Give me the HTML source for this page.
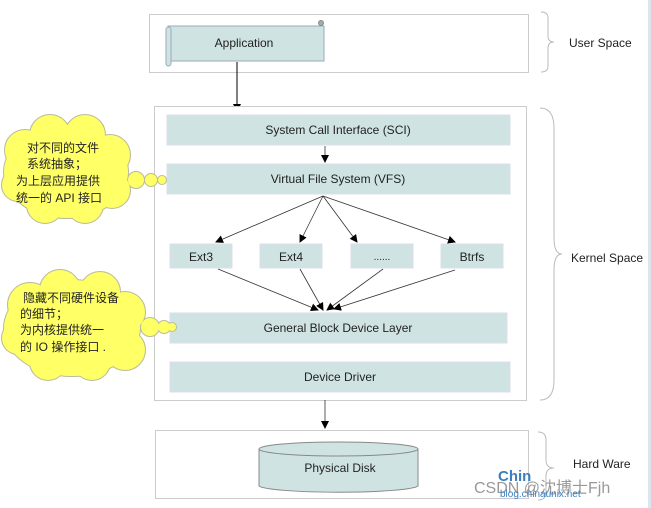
<!DOCTYPE html>
<html><head><meta charset="utf-8"><style>
html,body{margin:0;padding:0;background:#fff;width:651px;height:508px;overflow:hidden}
text{font-family:"Liberation Sans","Noto Sans CJK SC",sans-serif;fill:#222}
</style></head><body>
<svg width="651" height="508" viewBox="0 0 651 508" xmlns="http://www.w3.org/2000/svg">
<defs>
<marker id="a" markerWidth="8" markerHeight="8" refX="7" refY="4" orient="auto" markerUnits="userSpaceOnUse">
<path d="M0,0 L8,4 L0,8 Z" fill="#000"/></marker>
<g id="c1">
<ellipse cx="66" cy="172" rx="62" ry="46"/>
<circle cx="25" cy="150" r="20"/><circle cx="50" cy="135" r="20"/><circle cx="85" cy="135" r="20"/>
<circle cx="110" cy="155" r="20"/><circle cx="112" cy="190" r="18"/><circle cx="85" cy="205" r="18"/>
<circle cx="45" cy="205" r="18"/><circle cx="18" cy="185" r="16"/>
<circle cx="136" cy="180" r="8"/><circle cx="151" cy="180" r="6"/><circle cx="162" cy="180" r="4"/>
</g>
<g id="c2">
<ellipse cx="72" cy="328" rx="68" ry="48"/>
<circle cx="30" cy="305" r="22"/><circle cx="60" cy="290" r="20"/><circle cx="100" cy="292" r="20"/>
<circle cx="125" cy="312" r="20"/><circle cx="125" cy="350" r="20"/><circle cx="92" cy="362" r="18"/>
<circle cx="48" cy="362" r="18"/><circle cx="18" cy="338" r="16"/>
<circle cx="150" cy="327" r="9"/><circle cx="164" cy="327" r="6"/><circle cx="172" cy="327" r="4"/>
</g>
</defs>
<rect x="648" y="0" width="3" height="508" fill="#dde6ee"/>
<rect x="149.5" y="14.5" width="379" height="58" fill="#fff" stroke="#ccc"/>
<rect x="168" y="26" width="156" height="35" fill="#cfe3e3" stroke="#9ab"/>
<rect x="166" y="27" width="5" height="39" rx="2.5" fill="#cfe3e3" stroke="#9ab"/>
<circle cx="321" cy="23" r="2.5" fill="#aaa" stroke="#888"/>
<text x="244" y="47" font-size="12" text-anchor="middle">Application</text>
<path d="M541,12 q7,0 7,6 v18 q0,6 6,6 q-6,0 -6,6 v18 q0,6 -7,6" fill="none" stroke="#bbb"/>
<text x="569" y="47" font-size="12">User Space</text>
<line x1="237" y1="62" x2="237" y2="111" stroke="#000" marker-end="url(#a)"/>
<rect x="154.5" y="106.5" width="372" height="294" fill="#fff" stroke="#ccc"/>
<path d="M540,108 q14,0 14,20 v110 q0,16 8,16 q-8,0 -8,16 v110 q0,20 -14,20" fill="none" stroke="#bbb"/>
<text x="571" y="262" font-size="12">Kernel Space</text>
<g fill="#cfe3e3" stroke="#dde"><rect x="167" y="115" width="343" height="30"/>
<rect x="167" y="164" width="343" height="30"/>
<rect x="170" y="244" width="62" height="24"/><rect x="260" y="244" width="62" height="24"/>
<rect x="351" y="244" width="62" height="24"/><rect x="441" y="244" width="62" height="24"/>
<rect x="170" y="313" width="337" height="30"/><rect x="170" y="362" width="340" height="30"/></g>
<g font-size="12" text-anchor="middle">
<text x="338" y="134">System Call Interface (SCI)</text>
<text x="338" y="183">Virtual File System (VFS)</text>
<text x="201" y="261">Ext3</text><text x="291" y="261">Ext4</text>
<text x="382" y="260" font-size="10">......</text><text x="472" y="261">Btrfs</text>
<text x="338" y="332">General Block Device Layer</text>
<text x="340" y="381">Device Driver</text></g>
<g stroke="#333" stroke-width="0.8" marker-end="url(#a)">
<line x1="325" y1="146" x2="325" y2="162"/>
<line x1="323" y1="196" x2="216" y2="242"/><line x1="323" y1="196" x2="300" y2="242"/>
<line x1="323" y1="196" x2="357" y2="242"/><line x1="323" y1="196" x2="455" y2="242"/>
<line x1="218" y1="269" x2="318" y2="310"/><line x1="300" y1="269" x2="323" y2="310"/>
<line x1="383" y1="269" x2="327" y2="310"/><line x1="455" y1="270" x2="334" y2="309"/>
<line x1="325" y1="400" x2="325" y2="428"/></g>
<rect x="155.5" y="430.5" width="373" height="68" fill="#fff" stroke="#ccc"/>
<path d="M259,449 v37 a80,7 0 0 0 159,0 v-37" fill="#cfe3e3" stroke="#888"/>
<ellipse cx="338.5" cy="449" rx="79.5" ry="7" fill="#cfe3e3" stroke="#888"/>
<text x="340" y="472" font-size="12" text-anchor="middle">Physical Disk</text>
<path d="M538,432 q8,0 8,8 v20 q0,8 8,8 q-8,0 -8,8 v16 q0,8 -8,8" fill="none" stroke="#bbb"/>
<text x="573" y="468" font-size="12">Hard Ware</text>
<text x="498" y="481" font-size="15" font-weight="bold" style="fill:#3a7fc0">Chin</text>
<text x="474" y="493" font-size="16" style="fill:#999">CSDN @沈博士Fjh</text>
<text x="500" y="497" font-size="10" style="fill:#3a7fc0">blog.chinaunix.net</text>
<use href="#c1" fill="#bb9" stroke="#bb9" stroke-width="2"/>
<use href="#c1" fill="#ffff66"/>
<use href="#c2" fill="#bb9" stroke="#bb9" stroke-width="2"/>
<use href="#c2" fill="#ffff66"/>
<g font-size="12">
<text x="27" y="152">对不同的文件</text><text x="27" y="168">系统抽象；</text>
<text x="16" y="185">为上层应用提供</text><text x="16" y="202">统一的 API 接口</text>
<text x="23" y="302">隐藏不同硬件设备</text><text x="20" y="318">的细节；</text>
<text x="20" y="334">为内核提供统一</text><text x="20" y="351">的 IO 操作接口 .</text>
</g>
</svg>
</body></html>
